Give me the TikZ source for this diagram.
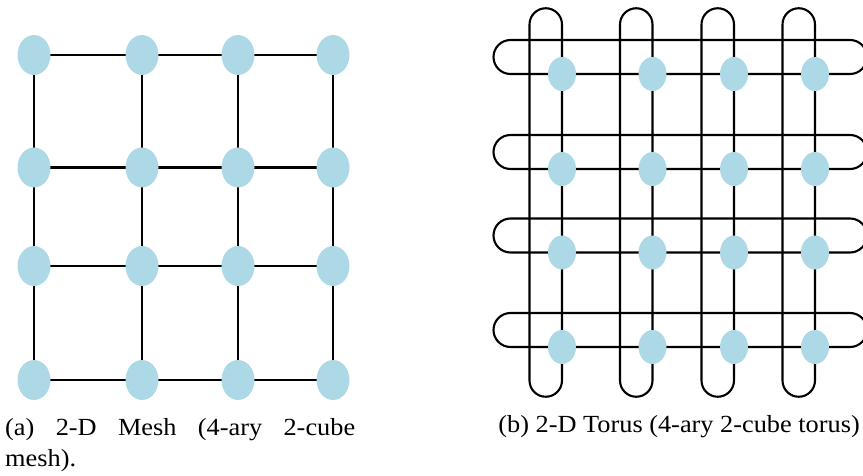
\documentclass[tikz,border=0pt]{standalone}
\usepackage{fontspec}
\setmainfont{Liberation Serif}[FakeStretch=1.07]
\usetikzlibrary{backgrounds,calc,shapes.geometric}
\definecolor{nodeblue}{RGB}{173,216,230}
\tikzset{
  meshnode/.style={ellipse, fill=nodeblue, minimum width=33pt, minimum height=40pt, inner sep=0pt},
  torusnode/.style={ellipse, fill=nodeblue, minimum width=28pt, minimum height=34pt, inner sep=0pt},
  meshline/.style={line width=2.5pt, black},
  torusline/.style={line width=2.1pt, black},
  captext/.style={inner sep=0pt, font=\fontsize{24.6pt}{31pt}\selectfont},
}
\begin{document}
\begin{tikzpicture}[x=1pt,y=1pt]
\useasboundingbox (0,0) rectangle (863,475);
% ---- mesh nodes ----
\foreach \r/\yy in {1/420,2/307.5,3/209,4/95}{
  \foreach \c/\xx in {1/34,2/142,3/238,4/333}{
    \node[meshnode] (m-\r-\c) at (\xx,\yy) {};
  }
}
% ---- torus nodes ----
\foreach \r/\yy in {1/401,2/306,3/222.5,4/128}{
  \foreach \c/\xx in {1/562,2/652.5,3/734,4/815}{
    \node[torusnode] (t-\r-\c) at (\xx,\yy) {};
  }
}
\begin{pgfonlayer}{background}
  % mesh edges
  \foreach \r in {1,...,4}{
    \foreach \c/\n in {1/2,2/3,3/4}{
      \draw[meshline] (m-\r-\c.center) -- (m-\r-\n.center);
      \draw[meshline] (m-\c-\r.center) -- (m-\n-\r.center);
    }
  }
  % torus row loops
  \foreach \r in {1,...,4}{
    \draw[torusline] (t-\r-1.center) -- ($(t-\r-1.center)+(-51.5,0)$)
      arc[start angle=270, end angle=90, radius=17]
      -- ($(t-\r-4.center)+(35,34)$)
      arc[start angle=90, end angle=-90, radius=17]
      -- cycle;
  }
  % torus column loops
  \foreach \c in {1,...,4}{
    \draw[torusline] (t-1-\c.center) -- ($(t-1-\c.center)+(0,49.5)$)
      arc[start angle=0, end angle=180, radius=16.25]
      -- ($(t-4-\c.center)+(-32.5,-33.5)$)
      arc[start angle=180, end angle=360, radius=16.25]
      -- cycle;
  }
\end{pgfonlayer}
% ---- captions ----
\node[captext, anchor=base west] (capa) at (5,39.5)
  {\parbox[t]{350pt}{\baselineskip=31pt\hbox to 350pt{(a)\hfill 2-D\hfill Mesh\hfill (4-ary\hfill 2-cube}\par\noindent mesh).}};
\node[captext, anchor=base east] (capb) at (860,43) {(b) 2-D Torus (4-ary 2-cube torus)};
\end{tikzpicture}
\end{document}
